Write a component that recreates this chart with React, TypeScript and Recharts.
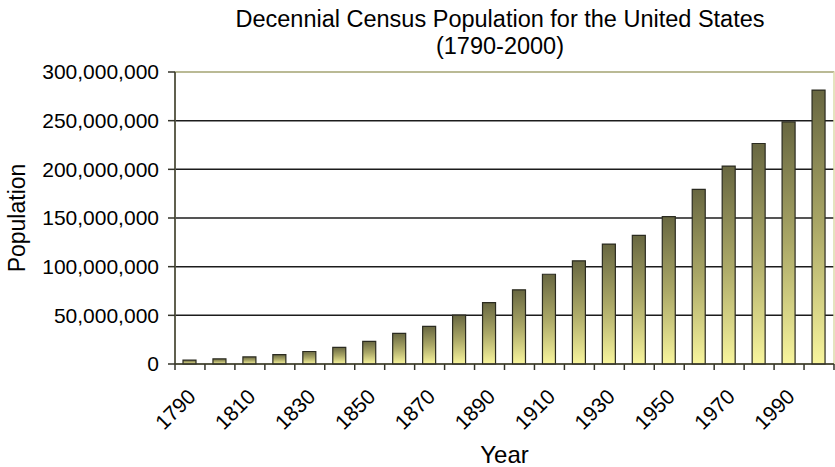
import React from "react";
import {
  BarChart,
  Bar,
  XAxis,
  YAxis,
  CartesianGrid,
  ReferenceArea,
  Label,
} from "recharts";

// Decennial census counts, 1790-2000.
const YEARS = [
  "1790", "1800", "1810", "1820", "1830", "1840", "1850", "1860", "1870", "1880", "1890",
  "1900", "1910", "1920", "1930", "1940", "1950", "1960", "1970", "1980", "1990", "2000",
];
const POPULATION = [
  3929214, 5308483, 7239881, 9638453, 12866020, 17069453, 23191876, 31443321, 38558371,
  50189209, 62979766, 76212168, 92228496, 106021537, 123202624, 132164569, 151325798,
  179323175, 203302031, 226542199, 248709873, 281421906,
];
const Y_TICKS = [0, 50000000, 100000000, 150000000, 200000000, 250000000, 300000000];

const data = YEARS.map((year, i) => ({ year, population: POPULATION[i] }));

const FONT = '"Liberation Sans", Arial, Helvetica, sans-serif';
const AXIS_COLOR = "#34342a";

// Year labels on every other bar, tick marks on band edges.
function YearTick(props: any) {
  const { x, y, payload, index } = props;
  const half = payload?.offset ?? 15;
  const last = index === YEARS.length - 1;
  const lx = x + 7;
  const ly = y + 34;
  return (
    <g>
      <line x1={x - half} y1={y} x2={x - half} y2={y + 6} stroke={AXIS_COLOR} strokeWidth={1.5} />
      {last && (
        <line x1={x + half} y1={y} x2={x + half} y2={y + 6} stroke={AXIS_COLOR} strokeWidth={1.5} />
      )}
      {index % 2 === 0 && (
        <text
          x={lx}
          y={ly}
          transform={`rotate(-45, ${lx}, ${ly})`}
          textAnchor="end"
          fontSize={21}
          fontFamily={FONT}
          fill="#000"
        >
          {payload.value}
        </text>
      )}
    </g>
  );
}

export default function App() {
  return (
    <div style={{ position: "absolute", left: 0, top: 0, width: 835, height: 467, background: "#fff" }}>
      <div
        style={{
          position: "absolute",
          left: 0,
          width: 1000,
          top: 6,
          textAlign: "center",
          fontFamily: FONT,
          fontSize: 23.5,
          lineHeight: "27px",
          color: "#000",
        }}
      >
        Decennial Census Population for the United States
        <br />
        (1790-2000)
      </div>
      <BarChart
        width={835}
        height={467}
        data={data}
        margin={{ top: 72, right: 1, left: 0, bottom: 0 }}
        barSize={13}
      >
        <defs>
          <linearGradient id="barFill" x1="0" y1="0" x2="0" y2="1">
            <stop offset="0%" stopColor="#686741" />
            <stop offset="50%" stopColor="#aba867" />
            <stop offset="100%" stopColor="#f8f59d" />
          </linearGradient>
        </defs>
        <CartesianGrid vertical={false} stroke="#1c1c1c" strokeWidth={1.5} />
        <ReferenceArea y1={0} y2={300000000} fill="none" stroke="#dcdcaa" strokeWidth={1.5} ifOverflow="visible" />
        <XAxis
          dataKey="year"
          interval={0}
          height={103}
          tickLine={false}
          tickSize={0}
          tickMargin={0}
          axisLine={{ stroke: AXIS_COLOR, strokeWidth: 1.5 }}
          tick={<YearTick />}
        >
          <Label
            value="Year"
            position="insideBottom"
            offset={4}
            style={{ fontSize: 24, fontFamily: FONT, fill: "#000" }}
          />
        </XAxis>
        <YAxis
          width={175}
          domain={[0, 300000000]}
          ticks={Y_TICKS}
          interval={0}
          tickSize={7}
          tickMargin={9}
          tickFormatter={(v: number) => v.toLocaleString("en-US")}
          tick={{ fontSize: 21, fontFamily: FONT, fill: "#000" }}
          tickLine={{ stroke: AXIS_COLOR, strokeWidth: 1.5 }}
          axisLine={{ stroke: AXIS_COLOR, strokeWidth: 1.5 }}
        >
          <Label
            value="Population"
            angle={-90}
            position="insideLeft"
            offset={17}
            style={{ textAnchor: "middle", fontSize: 23, fontFamily: FONT, fill: "#000" }}
          />
        </YAxis>
        <Bar
          dataKey="population"
          fill="url(#barFill)"
          stroke="#2b2b20"
          strokeWidth={1.2}
          isAnimationActive={false}
        />
      </BarChart>
    </div>
  );
}
